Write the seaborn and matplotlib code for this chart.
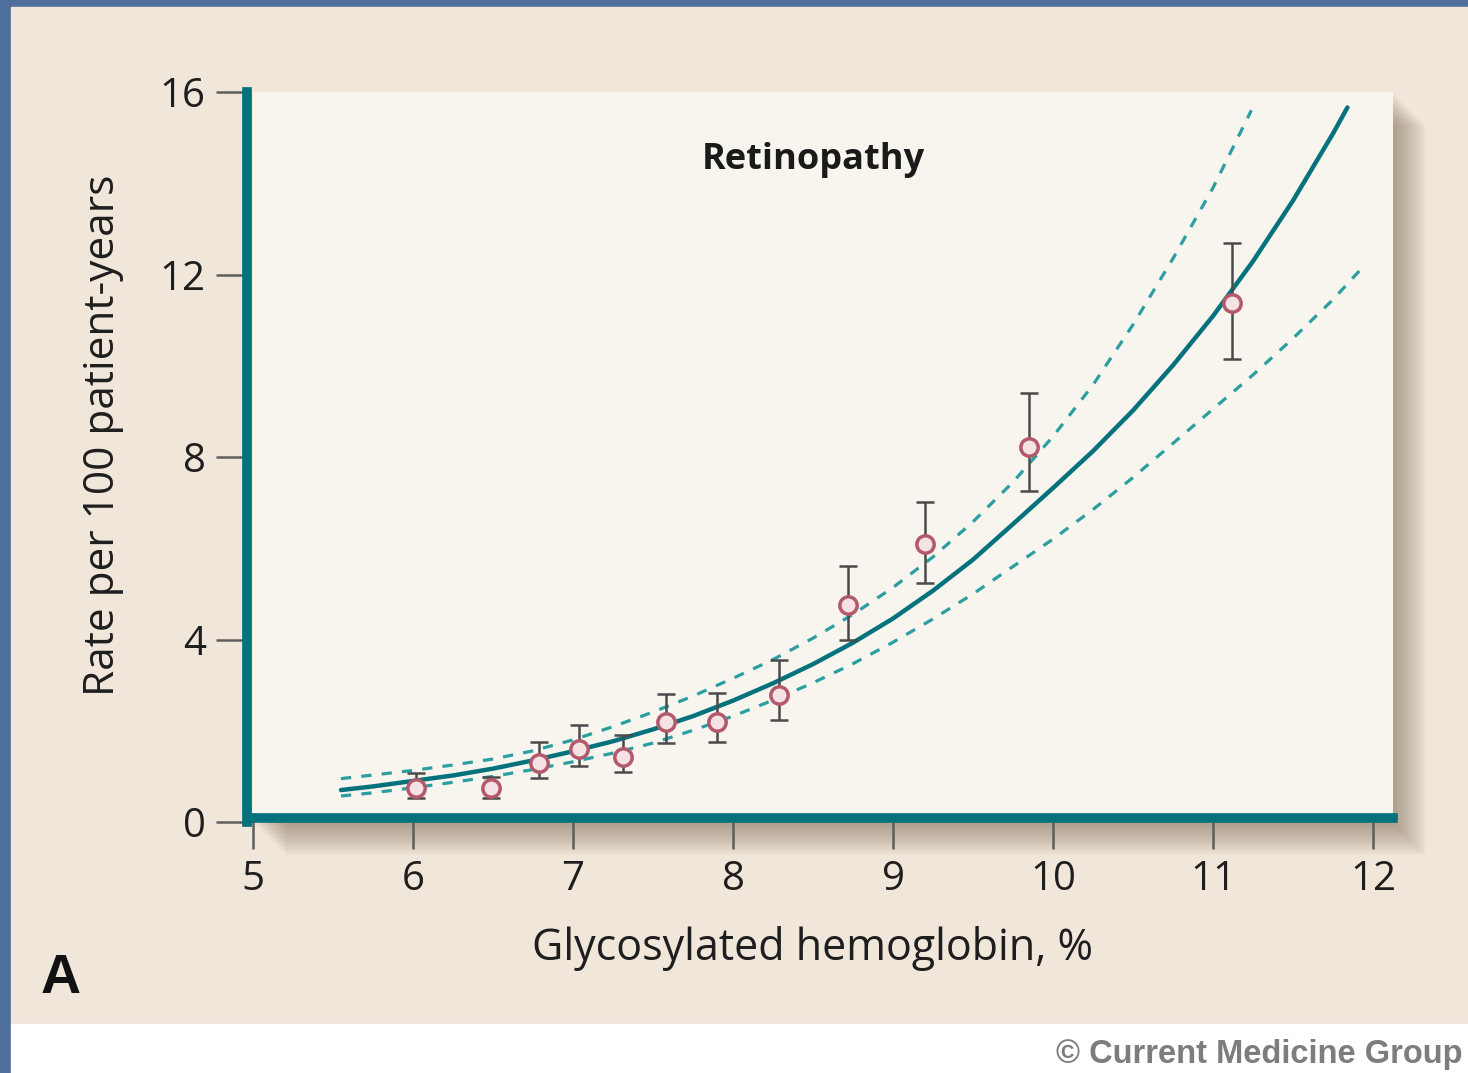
import numpy as np
import pandas as pd
import matplotlib
matplotlib.use("Agg")
import matplotlib.pyplot as plt
from matplotlib.patches import Rectangle
import seaborn as sns

# Observed rates (points with error bars)
hba1c = [6.02, 6.49, 6.79, 7.04, 7.31, 7.58, 7.90, 8.29, 8.72, 9.20, 9.85, 11.12]
rate = [0.75, 0.74, 1.29, 1.59, 1.43, 2.19, 2.20, 2.79, 4.76, 6.10, 8.22, 11.37]
rate_lo = [0.53, 0.53, 0.96, 1.22, 1.10, 1.73, 1.75, 2.24, 3.99, 5.24, 7.26, 10.15]
rate_hi = [1.08, 0.99, 1.75, 2.13, 1.91, 2.80, 2.83, 3.55, 5.61, 7.02, 9.41, 12.70]

# Fitted curve and its confidence band
fit_x = [5.55, 5.75, 6.0, 6.25, 6.5, 6.75, 7.0, 7.25, 7.5, 7.75, 8.0, 8.25, 8.5,
         8.75, 9.0, 9.25, 9.5, 9.75, 10.0, 10.25, 10.5, 10.75, 11.0, 11.25,
         11.5, 11.75, 11.84]
fit_y = [0.70, 0.78, 0.90, 1.02, 1.17, 1.35, 1.55, 1.77, 2.03, 2.32, 2.66, 3.04,
         3.46, 3.93, 4.46, 5.07, 5.75, 6.53, 7.32, 8.13, 9.02, 10.01, 11.09,
         12.29, 13.62, 15.09, 15.66]

up_x = [5.55, 5.75, 6.0, 6.25, 6.5, 6.75, 7.0, 7.25, 7.5, 7.75, 8.0, 8.25, 8.5,
        8.75, 9.0, 9.25, 9.5, 9.75, 10.0, 10.25, 10.5, 10.75, 11.0, 11.24]
up_y = [0.95, 1.03, 1.13, 1.25, 1.38, 1.56, 1.80, 2.09, 2.41, 2.76, 3.15, 3.56,
        4.03, 4.55, 5.14, 5.81, 6.58, 7.45, 8.45, 9.58, 10.90, 12.35, 13.90, 15.60]

low_x = [5.55, 5.75, 6.0, 6.25, 6.5, 6.75, 7.0, 7.25, 7.5, 7.75, 8.0, 8.25, 8.5,
         8.75, 9.0, 9.25, 9.5, 9.75, 10.0, 10.25, 10.5, 10.75, 11.0, 11.25,
         11.5, 11.75, 11.92]
low_y = [0.57, 0.64, 0.75, 0.87, 1.00, 1.15, 1.32, 1.51, 1.73, 2.01, 2.32, 2.67,
         3.05, 3.47, 3.94, 4.45, 5.00, 5.60, 6.20, 6.85, 7.55, 8.30, 9.05, 9.80,
         10.60, 11.45, 12.10]

x_ticks = [5, 6, 7, 8, 9, 10, 11, 12]
y_ticks = [0, 4, 8, 12, 16]

teal = '#04727c'
teal_light = '#2a9ea0'

sns.set_theme(style='white')
plt.rcParams['font.family'] = ['Open Sans', 'DejaVu Sans']

W, H = 1468, 1073
fig = plt.figure(figsize=(W / 100, H / 100), dpi=100)
fig.patch.set_facecolor('#4e6f9b')

# beige panel and white footer strip
fig.patches.append(Rectangle((11 / W, 49 / H), (W - 11) / W, (H - 7 - 49) / H,
                             transform=fig.transFigure, color='#f0e7da', zorder=0))
fig.patches.append(Rectangle((11 / W, 0), (W - 11) / W, 49 / H,
                             transform=fig.transFigure, color='white', zorder=0))

# plot box in pixels
bx0, bx1, by0, by1 = 253, 1393, 92, 822

# soft drop shadow
for k in range(16):
    off = 3 + k * 2
    fig.patches.append(Rectangle(((bx0 + off) / W, (H - by1 - off) / H),
                                 (bx1 - bx0) / W, (by1 - by0) / H,
                                 transform=fig.transFigure, color='#6b5640',
                                 alpha=0.035, lw=0, zorder=1))

ax = fig.add_axes([bx0 / W, 1 - by1 / H, (bx1 - bx0) / W, (by1 - by0) / H])
ax.set_facecolor('#f8f4ee')
ax.set_zorder(2)

sns.lineplot(x=up_x, y=up_y, ax=ax, color=teal_light, lw=2.3, linestyle=(0, (3.2, 3.2)))
sns.lineplot(x=low_x, y=low_y, ax=ax, color=teal_light, lw=2.3, linestyle=(0, (3.2, 3.2)))
sns.lineplot(x=fit_x, y=fit_y, ax=ax, color=teal, lw=3.2)

yerr = [np.array(rate) - np.array(rate_lo), np.array(rate_hi) - np.array(rate)]
ax.errorbar(hba1c, rate, yerr=yerr, fmt='none', ecolor='#4a4a4a', elinewidth=1.8,
            capsize=6.5, capthick=1.8, zorder=3)
ax.plot(hba1c, rate, 'o', ms=12.5, mfc='#f4e2e5', mec='#b4596b', mew=2.5, zorder=4)

ax.set_xlim(5, 12.125)
ax.set_ylim(0, 16)
ax.set_xticks(x_ticks)
ax.set_yticks(y_ticks)

for s in ['top', 'right']:
    ax.spines[s].set_visible(False)
for s in ['left', 'bottom']:
    ax.spines[s].set_color(teal)
    ax.spines[s].set_linewidth(7)
ax.spines['left'].set_position(('outward', 4))
ax.spines['bottom'].set_position(('outward', -3))

ax.tick_params(axis='both', direction='out', length=22, width=1.8, color='#5e5e5e',
               labelsize=29, labelcolor='#1e1e1e', pad=8, left=True, bottom=True)

ax.set_xlabel('Glycosylated hemoglobin, %', fontsize=31, color='#1e1e1e', va='center')
ax.xaxis.set_label_coords(0.491, -0.173)
ax.set_ylabel('Rate per 100 patient-years', fontsize=30.5, color='#1e1e1e', va='center')
ax.yaxis.set_label_coords(-0.132, 0.53)

ax.text(8.5, 14.52, 'Retinopathy', fontsize=26, weight='bold', color='#1a1a1a',
        ha='center', va='center')

fig.text(41 / W, 1 - 993 / H, 'A', fontsize=40, weight='bold', color='#111111',
         family='Liberation Sans', va='baseline')
fig.text(1462 / W, 1 - 1063 / H, '\u00a9 Current Medicine Group', fontsize=23.5,
         weight='bold', color='#7d7d7d', family='Liberation Sans', ha='right',
         va='baseline')

fig.savefig('out.png', dpi=100, facecolor=fig.get_facecolor())
